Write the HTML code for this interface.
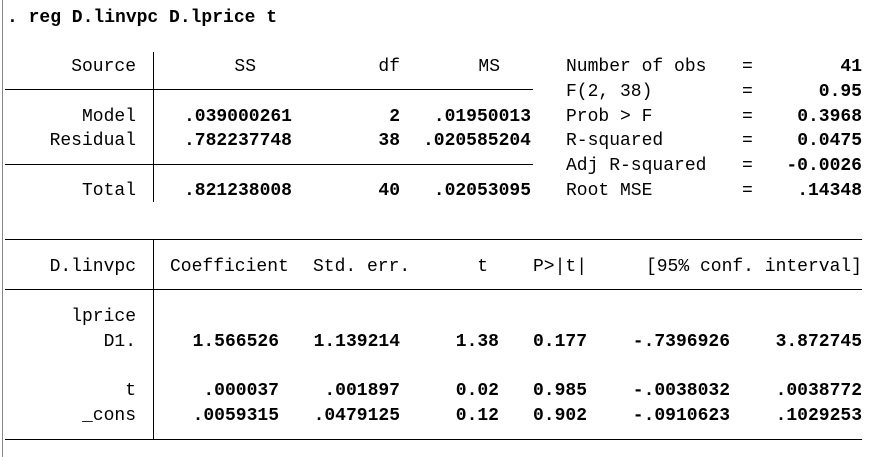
<!DOCTYPE html>
<html><head><meta charset="utf-8">
<style>
html,body{margin:0;padding:0;background:#fff;}
#root{position:relative;width:886px;height:457px;overflow:hidden;font-family:"Liberation Mono",monospace;font-size:18px;color:#000;}
.t{position:absolute;line-height:24px;white-space:pre;height:24px;}
.l{}
.r{transform:translateX(-100%);}
.b{font-weight:bold;}
.h{position:absolute;height:1px;background:#000;}
.v{position:absolute;width:1px;background:#000;}
</style></head>
<body>
<div id="root">
<div class="v" style="left:2px;top:0;height:457px;background:#888;"></div>
</div>
<script>
const root=document.getElementById('root');
function txt(s,x,yc,align,bold,name){
  const d=document.createElement('div');
  d.className='t '+(align==='r'?'r':'l')+(bold?' b':'');
  d.textContent=s;
  d.style.left=x+'px';
  d.style.top=(yc-10)+'px';
  
  
  root.appendChild(d);
}
function hline(x1,x2,y,name){
  const d=document.createElement('div');d.className='h';
  d.style.left=x1+'px';d.style.width=(x2-x1)+'px';d.style.top=y+'px';
  
  
  root.appendChild(d);
}
function vline(x,y1,y2,name){
  const d=document.createElement('div');d.className='v';
  d.style.left=x+'px';d.style.top=y1+'px';d.style.height=(y2-y1)+'px';
  
  
  root.appendChild(d);
}
txt('. reg D.linvpc D.lprice t',7,16,'l',true,'command-line');
txt('Source',136,65,'r',false,'source-header');
txt('SS',256,65,'r',false,'ss-header');
txt('df',400,65,'r',false,'df-header');
txt('MS',500,65,'r',false,'ms-header');
const anovaRows=[['Model','.039000261','2','.01950013',115],['Residual','.782237748','38','.020585204',139],['Total','.821238008','40','.02053095',189]];
anovaRows.forEach(r=>{
  txt(r[0],136,r[4],'r',false,'anova-row-label');
  txt(r[1],292,r[4],'r',true,'anova-ss');
  txt(r[2],400,r[4],'r',true,'anova-df');
  txt(r[3],531,r[4],'r',true,'anova-ms');
});
hline(5,533,89,'anova-header-rule');
hline(5,533,164,'anova-total-rule');
vline(153,52,202,'anova-divider');
const stats=[['Number of obs','41',65],['F(2, 38)','0.95',90],['Prob > F','0.3968',115],['R-squared','0.0475',139],['Adj R-squared','-0.0026',164],['Root MSE','.14348',189]];
stats.forEach(s=>{
  txt(s[0],566,s[2],'l',false,'stat-label');
  txt('=',742,s[2],'l',false,'stat-equals');
  txt(s[1],862,s[2],'r',true,'stat-value');
});
hline(5,862,239,'coef-top-rule');
hline(5,862,289,'coef-header-rule');
hline(5,862,439,'coef-bottom-rule');
vline(153,240,439,'coef-divider');
txt('D.linvpc',136,265,'r',false,'depvar-header');
txt('Coefficient',170,265,'l',false,'coef-header');
txt('Std. err.',313,265,'l',false,'se-header');
txt('t',488,265,'r',false,'t-header');
txt('P>|t|',533,265,'l',false,'p-header');
txt('[95% conf. interval]',862,265,'r',false,'ci-header');
txt('lprice',136,315,'r',false,'lprice-label');
const coefRows=[['D1.','1.566526','1.139214','1.38','0.177','-.7396926','3.872745',340],['t','.000037','.001897','0.02','0.985','-.0038032','.0038772',389],['_cons','.0059315','.0479125','0.12','0.902','-.0910623','.1029253',414]];
coefRows.forEach(r=>{
  const y=r[7];
  txt(r[0],136,y,'r',false,'coef-row-label');
  txt(r[1],279,y,'r',true,'coef-value');
  txt(r[2],400,y,'r',true,'se-value');
  txt(r[3],499,y,'r',true,'t-value');
  txt(r[4],533,y,'l',true,'p-value');
  txt(r[5],730,y,'r',true,'ci-lower');
  txt(r[6],862,y,'r',true,'ci-upper');
});
</script>
</body></html>
